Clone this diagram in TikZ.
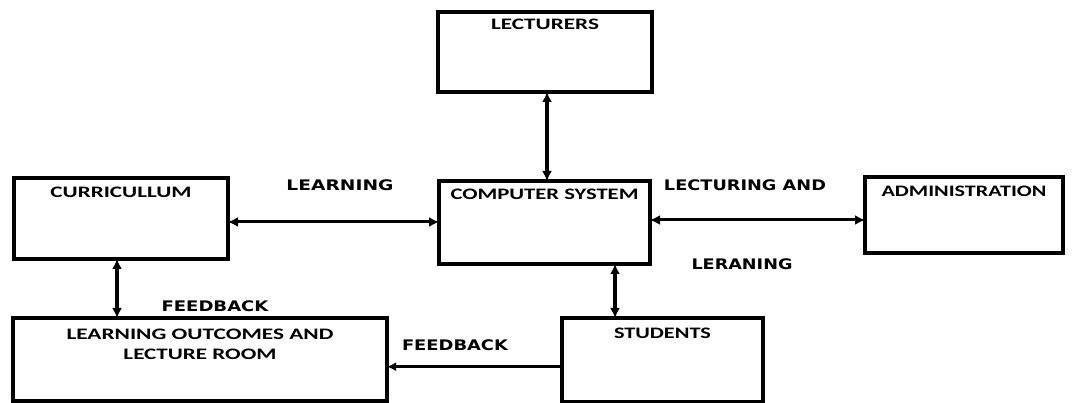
\documentclass[tikz,border=0pt]{standalone}
\usepackage{fontspec}
\usepackage{graphicx}
\usetikzlibrary{arrows.meta}
\newfontfamily\boxfont{Carlito}[BoldFont={Carlito Bold}]
\newfontfamily\labfont{DejaVu Sans}[BoldFont={DejaVu Sans Bold}]
\newcommand{\bt}[2]{\resizebox{#1pt}{10.5pt}{\boxfont\bfseries #2}}
\newcommand{\lt}[2]{\resizebox{#1pt}{10.8pt}{\labfont\bfseries #2}}
\tikzset{
  blk/.style={draw=black, line width=4pt, rectangle, inner sep=0pt, outer sep=0pt,
    anchor=north west, align=center, minimum height=0pt,
    font=\fontsize{16}{20}\selectfont},
  lbl/.style={anchor=base, inner sep=0pt},
  conn/.style={line width=3.5pt, {Latex[length=10pt,width=10pt]}-{Latex[length=10pt,width=10pt]}},
  oneway/.style={line width=2.6pt, -{Latex[length=9pt,width=9pt]}}
}
\begin{document}
\begin{tikzpicture}[x=1pt,y=-1pt]
\useasboundingbox (0,0) rectangle (1088,403);
% boxes
\node[blk, minimum width=214pt, text height=18pt, text depth=62pt] (lect) at (438,12) {\bt{108}{LECTURERS}};
\node[blk, minimum width=211pt, text height=19pt, text depth=64pt] (comp) at (439,181) {\bt{188}{COMPUTER SYSTEM}};
\node[blk, minimum width=214pt, text height=20pt, text depth=61pt] (curr) at (14,178) {\bt{141}{CURRICULLUM}};
\node[blk, minimum width=198pt, text height=20pt, text depth=56pt] (adm) at (865,177) {\bt{165}{ADMINISTRATION}};
\node[blk, minimum width=374pt, text height=42pt, text depth=41pt] (lo) at (13,318) {\bt{267}{LEARNING OUTCOMES AND}\\\bt{153}{LECTURE ROOM}};
\node[blk, minimum width=201pt, text height=21pt, text depth=63pt] (stud) at (562,318) {\bt{97}{STUDENTS}};
% labels
\node[lbl] (l1) at (340,191) {\lt{107}{LEARNING}};
\node[lbl] (l2) at (745,190.7) {\lt{162}{LECTURING AND}};
\node[lbl] (l3) at (742,270) {\lt{101}{LERANING}};
\node[lbl] (l4) at (215,311.7) {\lt{107}{FEEDBACK}};
\node[lbl] (l5) at (455,350.7) {\lt{106}{FEEDBACK}};
% connectors
\draw[conn] (547,0 |- lect.south) -- (547,0 |- comp.north);
\draw[conn, line width=3pt] (curr.east |- 0,222) -- (comp.west |- 0,222);
\draw[conn, line width=3pt] (comp.east |- 0,220) -- (adm.west |- 0,220);
\draw[conn] (117,0 |- curr.south) -- (117,0 |- lo.north);
\draw[conn] (615,0 |- comp.south) -- (615,0 |- stud.north);
\draw[oneway] (stud.west |- 0,366.7) -- (lo.east |- 0,366.7);
\end{tikzpicture}
\end{document}
